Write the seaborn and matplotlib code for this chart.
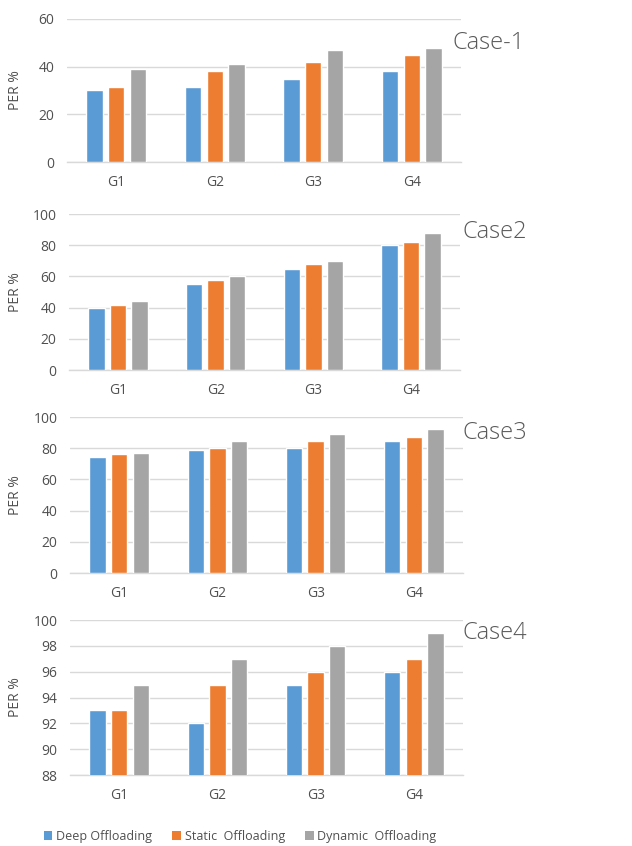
import matplotlib
matplotlib.use("Agg")
import matplotlib.pyplot as plt
import seaborn as sns
import pandas as pd
from matplotlib.patches import Patch

groups = ["G1", "G2", "G3", "G4"]
methods = ["Deep Offloading", "Static  Offloading", "Dynamic  Offloading"]
colors = ["#5B9BD5", "#ED7D31", "#A5A5A5"]

case1_deep = [30, 31.5, 35, 38]
case1_static = [31.5, 38, 42, 45]
case1_dynamic = [39, 41, 47, 48]

case2_deep = [40, 55, 65, 80]
case2_static = [41.5, 58, 68, 82]
case2_dynamic = [44.5, 60, 70, 87.5]

case3_deep = [74.5, 79, 80, 84.5]
case3_static = [76, 80, 84.5, 87]
case3_dynamic = [77, 84.5, 89, 92]

case4_deep = [93, 92, 95, 96]
case4_static = [93, 95, 96, 97]
case4_dynamic = [95, 97, 98, 99]

case_titles = ["Case-1", "Case2", "Case3", "Case4"]
ylims = [(0, 60), (0, 100), (0, 100), (88, 100)]
yticks = [[0, 20, 40, 60], [0, 20, 40, 60, 80, 100], [0, 20, 40, 60, 80, 100],
          [88, 90, 92, 94, 96, 98, 100]]

cases = [
    (case1_deep, case1_static, case1_dynamic),
    (case2_deep, case2_static, case2_dynamic),
    (case3_deep, case3_static, case3_dynamic),
    (case4_deep, case4_static, case4_dynamic),
]

sns.set_theme(style="white")
plt.rcParams["font.family"] = ["Open Sans", "DejaVu Sans"]

W, H = 632, 846
fig = plt.figure(figsize=(W / 100, H / 100), dpi=100)

# pixel boxes: (left, top, right, bottom)
boxes = [(67, 19, 461, 162), (69, 214, 460, 370), (70, 417, 463, 573), (70, 620, 463, 775)]
title_pos = [(452, 43), (463, 232), (463, 433), (463, 633)]

tick_col = "#505050"
grid_col = "#D9D9D9"

for i, (vals, box) in enumerate(zip(cases, boxes)):
    l, t, r, b = box
    ax = fig.add_axes([l / W, 1 - b / H, (r - l) / W, (b - t) / H])
    rows = []
    for m, v in zip(methods, vals):
        for g, y in zip(groups, v):
            rows.append({"group": g, "method": m, "value": y})
    df = pd.DataFrame(rows)
    sns.barplot(data=df, x="group", y="value", hue="method", palette=colors,
                hue_order=methods, order=groups, width=0.66, gap=0.24,
                ax=ax, legend=False, saturation=1, zorder=3)
    ax.set_ylim(*ylims[i])
    ax.set_xlim(-0.5, 3.5)
    ax.set_yticks(yticks[i])
    ax.yaxis.grid(True, color=grid_col, linewidth=1, zorder=0)
    ax.set_axisbelow(True)
    for s in ["top", "right", "left"]:
        ax.spines[s].set_visible(False)
    ax.spines["bottom"].set_color(grid_col)
    ax.spines["bottom"].set_linewidth(1)
    ax.tick_params(axis="both", length=0, labelsize=10, colors=tick_col)
    ax.tick_params(axis="y", pad=9)
    ax.tick_params(axis="x", pad=9)
    ax.set_xlabel("")
    ax.set_ylabel("PER %", fontsize=10, color=tick_col)
    ax.yaxis.set_label_coords(-(l - 23) / (r - l), 0.5)
    tx, ty = title_pos[i]
    fig.text(tx / W, 1 - ty / H, case_titles[i], fontsize=17, color="#595959",
             ha="left", va="center", fontweight="light")

handles = [Patch(facecolor=c, edgecolor="none") for c in colors]
fig.legend(handles, methods, loc="center", bbox_to_anchor=(240 / W, 1 - 836 / H),
           ncol=3, frameon=False, fontsize=9, handlelength=0.7, handleheight=0.7,
           handletextpad=0.3, columnspacing=1.6, labelcolor=tick_col)

fig.savefig("out.png", dpi=100)
